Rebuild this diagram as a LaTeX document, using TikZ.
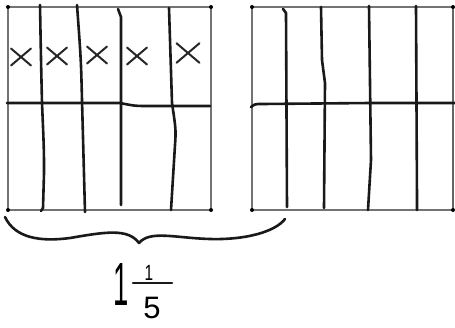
\documentclass[tikz,border=0pt]{standalone}
\usepackage{fontspec}
\setsansfont{Liberation Sans}
\usepackage{graphicx}
\usepackage{tikz}
\usetikzlibrary{positioning}

\begin{document}
\begin{tikzpicture}[x=1pt, y=-1pt,
  frame/.style={draw=black!55, line width=1.1pt},
  pen/.style={draw=black!90, line width=2.6pt, line cap=round, line join=round},
  crossmark/.style={draw=black!85, line width=2pt, line cap=round},
  cornerdot/.style={fill=black, circle, inner sep=0pt, minimum size=4pt},
]
  \useasboundingbox (0,0) rectangle (455,327);

  % left whole, five fifths shaded
  \coordinate (lnw) at (8,7);   \coordinate (lne) at (211,7);
  \coordinate (lsw) at (8,210); \coordinate (lse) at (211,210);
  \draw[frame] (lnw) -- (lne) -- (lse) -- (lsw) -- cycle;
  \foreach \c in {lnw,lne,lsw,lse} \node[cornerdot] at (\c) {};
  \draw[pen] (40,5) .. controls (41,60) .. (42,103) .. controls (44,150) .. (44,173) -- (43,208) -- (41,211);
  \draw[pen] (77,5) .. controls (81,60) .. (82,100) -- (85,212);
  \draw[pen] (118,9) -- (121,17) -- (121,205);
  \draw[pen] (169,8) -- (172,103) .. controls (176,130) .. (175,145) -- (171,210);
  \draw[pen] (7,103) -- (120,103) .. controls (135,106) .. (150,106) -- (210,106);
  \foreach \cx/\cy/\h in {21/57/10, 57/56/10, 97/55/10, 137/56/10, 188/53/11.5}
    \draw[crossmark] (\cx-\h,\cy-0.85*\h) -- (\cx+\h,\cy+0.85*\h)
                     (\cx-\h,\cy+0.85*\h) -- (\cx+\h,\cy-0.85*\h);

  % right whole
  \coordinate (rnw) at (252,7);   \coordinate (rne) at (453,7);
  \coordinate (rsw) at (252,210); \coordinate (rse) at (453,210);
  \draw[frame] (rnw) -- (rne) -- (rse) -- (rsw) -- cycle;
  \draw[black!60, line width=2pt] (rne) -- (rse);
  \foreach \c in {rnw,rne,rsw,rse} \node[cornerdot] at (\c) {};
  \draw[pen] (283,9) -- (286,13) -- (287,207);
  \draw[pen] (321,7) -- (322,60) -- (325,83) -- (324,208);
  \draw[pen] (369,6) -- (371,160) -- (368,210);
  \draw[pen] (416,6) -- (417,200) -- (417,210);
  \draw[pen] (251,107) .. controls (255,104) .. (262,104) -- (370,103) -- (455,103);

  % brace over the shaded part
  \coordinate (bl) at (5,217);
  \coordinate (btip) at (139,243);
  \coordinate (br) at (285,219);
  \draw[pen] (bl) .. controls (15,238) and (40,242) .. (70,238)
    .. controls (105,232) and (128,228) .. (btip)
    .. controls (150,230) and (175,238) .. (210,239)
    .. controls (245,240) and (275,232) .. (br);

  % label
  \node[font=\sffamily\fontsize{61}{61}\selectfont, inner sep=0pt] (whole) at (121,285) {\scalebox{0.45}[1]{1}};
  \node[font=\sffamily\fontsize{22}{22}\selectfont, inner sep=0pt] (num) at (149,273) {\scalebox{0.7}[1]{1}};
  \node[font=\sffamily\fontsize{31}{31}\selectfont, inner sep=0pt] (den) at (152,308) {5};
  \draw[pen] (133,283) -- (172,283);
\end{tikzpicture}
\end{document}
